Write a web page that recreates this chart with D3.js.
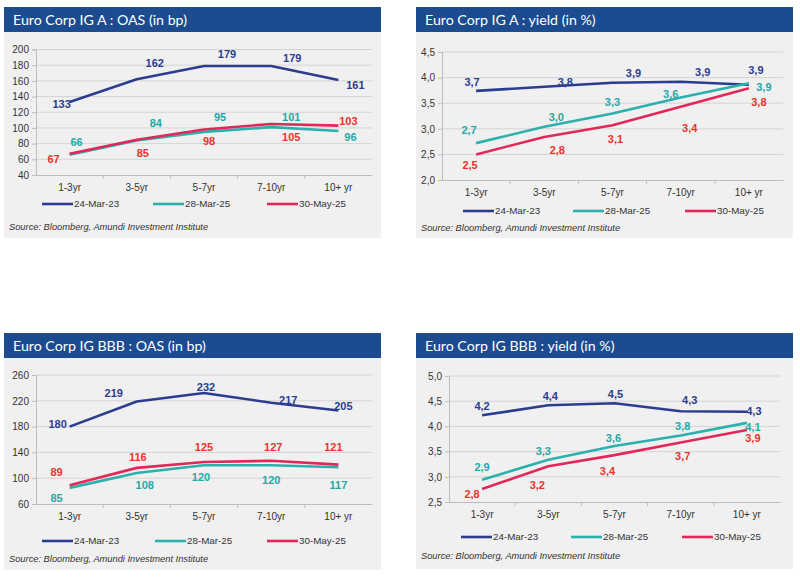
<!DOCTYPE html>
<html>
<head>
<meta charset="utf-8">
<script src="https://cdn.jsdelivr.net/npm/d3@7"></script>
<style>
  html, body { margin: 0; padding: 0; background: #ffffff; }
  svg { display: block; }
</style>
</head>
<body>
<svg id="chart" width="800" height="577"></svg>
<script>
// ---------------- DATA ----------------
const categories = ["1-3yr", "3-5yr", "5-7yr", "7-10yr", "10+ yr"];
const seriesNames = ["24-Mar-23", "28-Mar-25", "30-May-25"];

// Euro Corp IG A : OAS (bp)
const igAOas_24Mar23 = [133, 162, 179, 179, 161];
const igAOas_28Mar25 = [66, 84, 95, 101, 96];
const igAOas_30May25 = [67, 85, 98, 105, 103];
const igAOasTicks = [40, 60, 80, 100, 120, 140, 160, 180, 200];

// Euro Corp IG A : yield (%)
const igAYield_24Mar23 = [3.74, 3.82, 3.90, 3.92, 3.86];
const igAYield_28Mar25 = [2.72, 3.04, 3.30, 3.61, 3.89];
const igAYield_30May25 = [2.50, 2.84, 3.07, 3.43, 3.79];
const igAYieldTicks = [2.0, 2.5, 3.0, 3.5, 4.0, 4.5];

// Euro Corp IG BBB : OAS (bp)
const bbbOas_24Mar23 = [180, 219, 232, 217, 205];
const bbbOas_28Mar25 = [85, 108, 120, 120, 117];
const bbbOas_30May25 = [89, 116, 125, 127, 121];
const bbbOasTicks = [60, 100, 140, 180, 220, 260];

// Euro Corp IG BBB : yield (%)
const bbbYield_24Mar23 = [4.22, 4.42, 4.46, 4.30, 4.29];
const bbbYield_28Mar25 = [2.94, 3.34, 3.61, 3.82, 4.07];
const bbbYield_30May25 = [2.76, 3.21, 3.43, 3.68, 3.93];
const bbbYieldTicks = [2.5, 3.0, 3.5, 4.0, 4.5, 5.0];

const sourceText = "Source: Bloomberg, Amundi Investment Institute";

// ---------------- STYLE / LAYOUT ----------------
const lineColors = ["#2b3d8f", "#2bb0ae", "#e2285a"];
const labelColors = ["#2b3d8f", "#25a9a7", "#e8352b"];

const fmtInt = d => d3.format("d")(d);
const fmtComma1 = d => d3.format(".1f")(d).replace(".", ",");

// label offsets (dx, dy of label centre relative to data point), per series
const panels = [
  {
    title: "Euro Corp IG A : OAS (in bp)",
    box: {x: 4, y: 7, w: 377, h: 231},
    plot: {x0: 36, x1: 372, y0: 49.5, y1: 175},
    series: [igAOas_24Mar23, igAOas_28Mar25, igAOas_30May25],
    ticks: igAOasTicks, tickFmt: fmtInt, labelFmt: fmtInt,
    legendY: 204, legendX: [38, 149, 263], sourceY: 227,
    offsets: [
      [[-8, 2], [18, -16], [23, -12], [21, -8], [17, 5]],
      [[7, -13], [19, -17], [16, -15], [20, -10], [12, 6]],
      [[-16, 5], [6, 13], [5, 12], [20, 13], [10, -5]]
    ]
  },
  {
    title: "Euro Corp IG A : yield (in %)",
    box: {x: 416, y: 7, w: 377, h: 231},
    plot: {x0: 442, x1: 783, y0: 52, y1: 180},
    series: [igAYield_24Mar23, igAYield_28Mar25, igAYield_30May25],
    ticks: igAYieldTicks, tickFmt: fmtComma1, labelFmt: fmtComma1,
    legendY: 211, legendX: [47, 157, 269], sourceY: 228,
    offsets: [
      [[-4, -9], [21, -5], [21, -10], [22, -10], [7, -15]],
      [[-7, -13], [12, -10], [0, -11], [-10, -4], [15, 4]],
      [[-6, 11], [13, 13], [3, 14], [9, 21], [10, 14]]
    ]
  },
  {
    title: "Euro Corp IG BBB : OAS (in bp)",
    box: {x: 4, y: 333, w: 377, h: 237},
    plot: {x0: 36, x1: 372, y0: 375, y1: 504},
    series: [bbbOas_24Mar23, bbbOas_28Mar25, bbbOas_30May25],
    ticks: bbbOasTicks, tickFmt: fmtInt, labelFmt: fmtInt,
    legendY: 541, legendX: [38, 151, 263], sourceY: 559,
    offsets: [
      [[-12, -3], [-23, -8], [2, -6], [17, -3], [5, -4]],
      [[-13, 10], [8, 12], [-3, 12], [0, 15], [0, 18]],
      [[-13, -13], [1, -11], [0, -15], [2, -14], [-5, -18]]
    ]
  },
  {
    title: "Euro Corp IG BBB : yield (in %)",
    box: {x: 416, y: 333, w: 377, h: 236},
    plot: {x0: 449, x1: 780, y0: 376, y1: 502},
    series: [bbbYield_24Mar23, bbbYield_28Mar25, bbbYield_30May25],
    ticks: bbbYieldTicks, tickFmt: fmtComma1, labelFmt: fmtComma1,
    legendY: 537, legendX: [45, 155, 266], sourceY: 556,
    offsets: [
      [[0, -9], [2, -9], [1, -9], [9, -11], [7, -1]],
      [[0, -13], [-5, -9], [-1, -8], [2, -9], [6, 4]],
      [[-10, 5], [-11, 19], [-7, 16], [2, 14], [6, 8]]
    ]
  }
];

const svg = d3.select("#chart");
const FONT = "'Liberation Sans', Arial, Helvetica, sans-serif";

panels.forEach(p => {
  const g = svg.append("g");
  const b = p.box;

  // background
  g.append("rect").attr("x", b.x).attr("y", b.y).attr("width", b.w).attr("height", b.h)
    .attr("fill", "#f0f0f0");
  // title bar
  g.append("rect").attr("x", b.x).attr("y", b.y).attr("width", b.w).attr("height", 25)
    .attr("fill", "#1d4b8f");
  g.append("text").attr("x", b.x + 9).attr("y", b.y + 18)
    .attr("fill", "#ffffff").attr("font-family", "Lato, 'Open Sans', sans-serif")
    .attr("font-size", 14.2).text(p.title);

  const x = d3.scaleBand().domain(categories).range([p.plot.x0, p.plot.x1]).padding(0);
  const y = d3.scaleLinear().domain(d3.extent(p.ticks)).range([p.plot.y1, p.plot.y0]);

  // gridlines
  g.append("g").selectAll("line").data(p.ticks.slice(1)).join("line")
    .attr("x1", p.plot.x0).attr("x2", p.plot.x1)
    .attr("y1", d => y(d)).attr("y2", d => y(d))
    .attr("stroke", "#d4d4d4").attr("stroke-width", 1);

  // y axis
  const yAxis = g.append("g").attr("transform", `translate(${p.plot.x0},0)`)
    .call(d3.axisLeft(y).tickValues(p.ticks).tickFormat(p.tickFmt).tickSize(4).tickPadding(3));
  yAxis.select(".domain").attr("stroke", "#bdbdbd");
  yAxis.selectAll(".tick line").attr("stroke", "#bdbdbd");
  yAxis.selectAll("text").attr("font-family", FONT).attr("font-size", 10).attr("fill", "#333");

  // x axis
  const xAxis = g.append("g").attr("transform", `translate(0,${p.plot.y1})`)
    .call(d3.axisBottom(x).tickSize(0).tickPadding(9));
  xAxis.select(".domain").attr("stroke", "#bdbdbd");
  xAxis.selectAll("text").attr("font-family", FONT).attr("font-size", 10).attr("fill", "#333");
  // category separators
  g.append("g").selectAll("line").data(categories.slice(1)).join("line")
    .attr("x1", d => x(d)).attr("x2", d => x(d))
    .attr("y1", p.plot.y1).attr("y2", p.plot.y1 + 4)
    .attr("stroke", "#bdbdbd");

  const line = d3.line()
    .x((d, i) => x(categories[i]) + x.bandwidth() / 2)
    .y(d => y(d));

  p.series.forEach((s, si) => {
    g.append("path").datum(s).attr("d", line)
      .attr("fill", "none").attr("stroke", lineColors[si]).attr("stroke-width", 2.6)
      .attr("stroke-linejoin", "round").attr("stroke-linecap", "butt");
  });

  p.series.forEach((s, si) => {
    g.append("g").selectAll("text").data(s).join("text")
      .attr("x", (d, i) => x(categories[i]) + x.bandwidth() / 2 + p.offsets[si][i][0])
      .attr("y", (d, i) => y(d) + p.offsets[si][i][1])
      .attr("dy", "0.36em")
      .attr("text-anchor", "middle")
      .attr("font-family", FONT).attr("font-weight", "bold").attr("font-size", 11)
      .attr("fill", labelColors[si])
      .text(d => p.labelFmt(d));
  });

  // legend
  seriesNames.forEach((n, si) => {
    const lx = b.x + p.legendX[si];
    g.append("line").attr("x1", lx).attr("x2", lx + 31)
      .attr("y1", p.legendY).attr("y2", p.legendY)
      .attr("stroke", lineColors[si]).attr("stroke-width", 2.6);
    g.append("text").attr("x", lx + 32).attr("y", p.legendY).attr("dy", "0.35em")
      .attr("font-family", FONT).attr("font-size", 9.8).attr("fill", "#333").text(n);
  });

  // source
  g.append("text").attr("x", b.x + 5).attr("y", p.sourceY).attr("dy", "0.35em")
    .attr("font-family", FONT).attr("font-style", "italic").attr("font-size", 9.3)
    .attr("fill", "#333").text(sourceText);
});
</script>
</body>
</html>
